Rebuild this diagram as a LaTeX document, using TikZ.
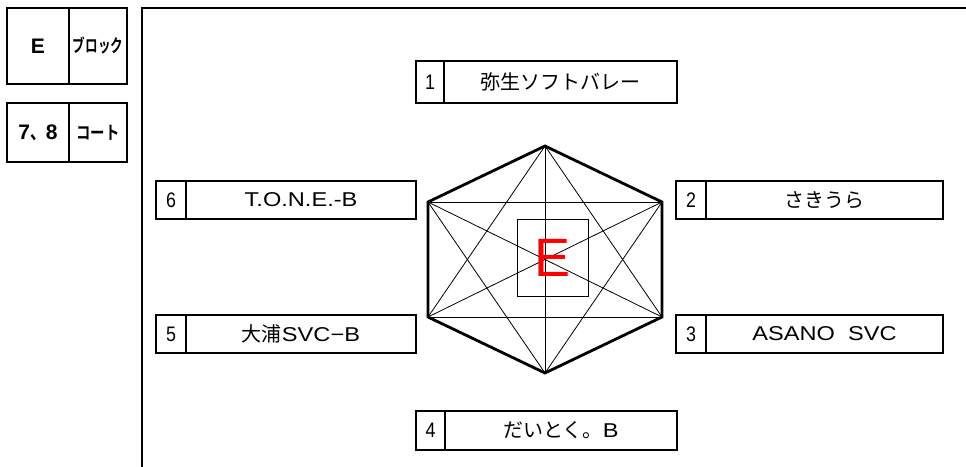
\documentclass[tikz,border=0pt]{standalone}
\usepackage{fontspec}
\usepackage{graphicx}
\setmainfont{Liberation Sans}
\newfontfamily\lat[FakeStretch=1.18]{Liberation Sans}
\newfontfamily\digits[FakeStretch=0.85]{Liberation Sans}
\newfontfamily\jp[BoldFont={Noto Sans CJK JP Bold}]{Noto Sans CJK JP}
\tikzset{
  cell/.style={draw, line width=1.6pt, inner sep=0pt, font=\lat\fontsize{20}{24}\selectfont},
  numcell/.style={cell, font=\digits\fontsize{21}{24}\selectfont},
  hexedge/.style={line width=2.8pt, line join=miter},
  diag/.style={line width=0.8pt},
}
\begin{document}
\begin{tikzpicture}[x=1pt,y=-1pt]
\useasboundingbox (0,0) rectangle (966,466);
% frame
\coordinate (ftl) at (142,8);
\coordinate (ftr) at (967,8);
\coordinate (fbl) at (142,467);
\draw[line width=1.6pt] (ftr) -- (ftl) -- (fbl);
% top-left boxes
\node[cell, minimum width=62pt, minimum height=76pt, font=\rmfamily\bfseries\fontsize{21}{24}\selectfont] (blkL) at (38,46) {E};
\node[cell, minimum width=58pt, minimum height=76pt] (blkR) at (98,46) {\scalebox{0.7}[1]{\jp\bfseries\fontsize{18}{20}\selectfont ブロック}};
\node[cell, minimum width=62pt, minimum height=59pt, font=\rmfamily\bfseries\fontsize{21}{24}\selectfont] (crtL) at (38,132.5) {7\scalebox{0.75}[1]{\jp\bfseries 、}8};
\node[cell, minimum width=58pt, minimum height=59pt] (crtR) at (98,132.5) {\scalebox{0.8}[1]{\jp\bfseries\fontsize{18}{20}\selectfont コート}};
% team boxes
\node[numcell, minimum width=28pt, minimum height=42pt] (n1) at (430,82) {1};
\node[cell, minimum width=233pt, minimum height=42pt] (t1) at (560.5,82) {\jp 弥生ソフトバレー};
\node[numcell, minimum width=30pt, minimum height=38pt] (n2) at (691,200) {2};
\node[cell, minimum width=237pt, minimum height=38pt] (t2) at (824.5,200) {\jp さきうら};
\node[numcell, minimum width=30pt, minimum height=38pt] (n3) at (691,334) {3};
\node[cell, minimum width=237pt, minimum height=38pt] (t3) at (824.5,334) {ASANO\ \ SVC};
\node[numcell, minimum width=29pt, minimum height=39pt] (n4) at (430.5,430.5) {4};
\node[cell, minimum width=232pt, minimum height=39pt] (t4) at (561,430.5) {{\jp だいとく。}B};
\node[numcell, minimum width=30pt, minimum height=38pt] (n5) at (171,334) {5};
\node[cell, minimum width=230pt, minimum height=38pt] (t5) at (301,334) {{\jp 大浦}SVC−B};
\node[numcell, minimum width=30pt, minimum height=38pt] (n6) at (171,200) {6};
\node[cell, minimum width=230pt, minimum height=38pt] (t6) at (301,200) {T.O.N.E.-B};
% hexagon
\coordinate (hT) at (545,146);
\coordinate (hUR) at (662,202);
\coordinate (hLR) at (662,317);
\coordinate (hB) at (545,373);
\coordinate (hLL) at (428,317);
\coordinate (hUL) at (428,202);
\draw[diag] (hT) -- (hB);
\draw[diag] (hT) -- (hLL);
\draw[diag] (hT) -- (hLR);
\draw[diag] (hB) -- (hUL);
\draw[diag] (hB) -- (hUR);
\draw[diag] (hUL) -- (hUR);
\draw[diag] (hLL) -- (hLR);
\draw[diag] (hUL) -- (hLR);
\draw[diag] (hUR) -- (hLL);
\node[draw, line width=0.8pt, minimum width=71pt, minimum height=77pt, inner sep=0pt, text=red, font=\rmfamily\fontsize{54}{56}\selectfont] (mid) at (552.5,257.5) {E};
\draw[hexedge] (hT) -- (hUR) -- (hLR) -- (hB) -- (hLL) -- (hUL) -- cycle;
\end{tikzpicture}
\end{document}
